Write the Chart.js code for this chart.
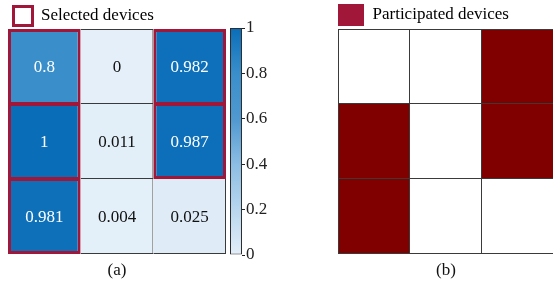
<!DOCTYPE html>
<html>
<head>
<meta charset="utf-8">
<script src="https://cdn.jsdelivr.net/npm/chart.js@4.4.1/dist/chart.umd.min.js"></script>
<style>
  html, body { margin: 0; padding: 0; background: #fff; overflow: hidden; }
  #wrap { position: relative; width: 553px; height: 286px; overflow: hidden; }
  canvas { position: absolute; top: 0; }
</style>
</head>
<body>
<div id="wrap">
  <canvas id="heatA" width="230" height="286" style="left:0"></canvas>
  <canvas id="cbar" width="60" height="286" style="left:228px"></canvas>
  <canvas id="heatB" width="276" height="286" style="left:280px"></canvas>
</div>
<script>
// grid columns and rows (top row first)
const columns = ['1', '2', '3'];
const rowNames = ['row 1', 'row 2', 'row 3'];
const row1Values = [0.8, 0, 0.982];
const row2Values = [1, 0.011, 0.987];
const row3Values = [0.981, 0.004, 0.025];
const row1Selected = [1, 0, 1];
const row2Selected = [1, 0, 1];
const row3Selected = [1, 0, 0];
const row1Participated = [0, 0, 1];
const row2Participated = [1, 0, 1];
const row3Participated = [1, 0, 0];
const colorbarTicks = [0, 0.2, 0.4, 0.6, 0.8, 1];

const cellValues = [row1Values, row2Values, row3Values];
const selected = [row1Selected, row2Selected, row3Selected];
const participated = [row1Participated, row2Participated, row3Participated];

const serif = '"Liberation Serif", "Times New Roman", serif';
const selColor = '#a0173a';
const gridColor = '#3a3a3a';

// blue colormap
const blueStops = [
  [0, [228, 239, 249]],
  [0.2, [184, 214, 238]],
  [0.4, [140, 189, 227]],
  [0.6, [80, 152, 208]],
  [0.8, [58, 143, 203]],
  [1, [10, 109, 184]]
];
function blueColor(v) {
  for (let i = 1; i < blueStops.length; i++) {
    const [v1, c1] = blueStops[i];
    const [v0, c0] = blueStops[i - 1];
    if (v <= v1) {
      const t = (v - v0) / (v1 - v0);
      const c = c0.map((x, k) => Math.round(x + (c1[k] - x) * t));
      return `rgb(${c[0]},${c[1]},${c[2]})`;
    }
  }
  return 'rgb(10,109,184)';
}

function isSel(r, c) {
  return r >= 0 && r < 3 && c >= 0 && c < 3 && selected[r][c] === 1;
}
function gridBorder(r, c) {
  return { top: r === 0 ? 1 : 0, left: c === 0 ? 1 : 0, right: 1, bottom: 1 };
}
function selBorder(r, c) {
  return {
    top: isSel(r - 1, c) ? 2 : 3,
    bottom: isSel(r + 1, c) ? 2 : 3,
    left: isSel(r, c - 1) ? 2 : 3,
    right: isSel(r, c + 1) ? 2 : 3
  };
}

const cellText = {
  id: 'cellText',
  afterDatasetsDraw(chart) {
    const ctx = chart.ctx;
    ctx.save();
    ctx.font = '17px ' + serif;
    ctx.textAlign = 'center';
    ctx.textBaseline = 'middle';
    chart.data.datasets.forEach((ds, i) => {
      chart.getDatasetMeta(i).data.forEach((bar, c) => {
        const v = ds.values[c];
        const p = bar.getCenterPoint();
        ctx.fillStyle = v > 0.5 ? '#fff' : '#111';
        ctx.fillText(String(v), p.x, p.y + 1);
      });
    });
    ctx.restore();
  }
};

// stacked bars: bottom row first
const datasetsA = [2, 1, 0].map(r => ({
  label: rowNames[r],
  values: cellValues[r],
  data: columns.map(() => 1),
  backgroundColor: cellValues[r].map(blueColor),
  borderColor: selected[r].map(s => s ? selColor : gridColor),
  borderWidth: ctx => selected[r][ctx.dataIndex] ? selBorder(r, ctx.dataIndex) : gridBorder(r, ctx.dataIndex)
}));

const datasetsB = [2, 1, 0].map(r => ({
  label: rowNames[r],
  data: columns.map(() => 1),
  backgroundColor: participated[r].map(p => p ? '#800000' : '#ffffff'),
  borderColor: gridColor,
  borderWidth: ctx => gridBorder(r, ctx.dataIndex)
}));

const barDefaults = { barPercentage: 1, categoryPercentage: 1, inflateAmount: 0, borderSkipped: false };

function heatOptions(padding, legend, title) {
  return {
    responsive: false,
    animation: false,
    layout: { padding },
    datasets: { bar: barDefaults },
    scales: {
      x: { display: false, stacked: true },
      y: { display: false, stacked: true, min: 0, max: 3 }
    },
    plugins: {
      legend,
      title: {
        display: true, text: title, position: 'bottom', color: '#111',
        font: { family: serif, size: 17, weight: 'normal' },
        padding: { top: 6, bottom: 5.6 }
      },
      tooltip: { enabled: false }
    }
  };
}

new Chart(document.getElementById('heatA'), {
  type: 'bar',
  data: { labels: columns, datasets: datasetsA },
  options: heatOptions({ left: 8, right: 4, top: 1, bottom: 0 }, {
    display: true, position: 'top', align: 'start', maxHeight: 28, onClick: null,
    labels: {
      boxWidth: 19, boxHeight: 19, padding: 5.5, color: '#111',
      font: { family: serif, size: 17 },
      generateLabels: () => [{ text: 'Selected devices', fillStyle: '#fff', strokeStyle: selColor, lineWidth: 3, hidden: false }]
    }
  }, '(a)'),
  plugins: [cellText]
});

new Chart(document.getElementById('heatB'), {
  type: 'bar',
  data: { labels: columns, datasets: datasetsB },
  options: heatOptions({ left: 58, right: 2, top: 4, bottom: 0 }, {
    display: true, position: 'top', align: 'start', maxHeight: 25, onClick: null,
    labels: {
      boxWidth: 26, boxHeight: 22, padding: 0, color: '#111',
      font: { family: serif, size: 17 },
      generateLabels: () => [{ text: 'Participated devices', fillStyle: selColor, strokeStyle: selColor, lineWidth: 0, hidden: false }]
    }
  }, '(b)')
});

// colorbar
new Chart(document.getElementById('cbar'), {
  type: 'bar',
  data: {
    labels: ['scale'],
    datasets: [{
      data: [colorbarTicks[colorbarTicks.length - 1]],
      backgroundColor: ctx => {
        const area = ctx.chart.chartArea;
        if (!area) return blueColor(0.5);
        const g = ctx.chart.ctx.createLinearGradient(0, area.bottom, 0, area.top);
        blueStops.forEach(([v, c]) => g.addColorStop(v, `rgb(${c[0]},${c[1]},${c[2]})`));
        return g;
      },
      borderColor: '#2e2e2e',
      borderWidth: 1,
      ...barDefaults
    }]
  },
  options: {
    responsive: false,
    animation: false,
    layout: { padding: { left: 2, right: 0, top: 28, bottom: 31 } },
    scales: {
      x: { display: false },
      y: {
        position: 'right', min: 0, max: 1,
        afterFit: s => { s.width = 46; },
        afterBuildTicks: s => { s.ticks = colorbarTicks.map(v => ({ value: v })); },
        grid: { drawOnChartArea: false, tickLength: 3, color: '#222' },
        border: { display: false },
        ticks: {
          padding: 1, color: '#222', font: { family: serif, size: 17 },
          callback: v => String(Math.round(v * 10) / 10)
        }
      }
    },
    plugins: { legend: { display: false }, tooltip: { enabled: false } }
  }
});
</script>
</body>
</html>
